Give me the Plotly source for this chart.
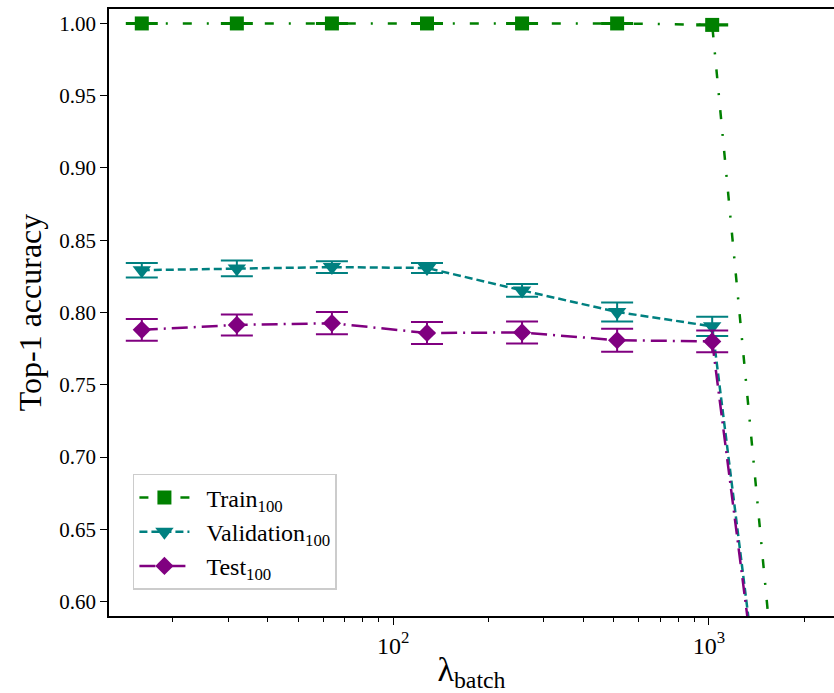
import plotly.graph_objects as go

batch = [16, 32, 64, 128, 256, 512, 1024, 2048]

train_acc = [1.000, 1.000, 1.000, 1.000, 1.000, 1.000, 0.999, 0.305]
train_err = [0.0003, 0.0003, 0.0003, 0.0003, 0.0003, 0.0003, 0.0004, 0.0]

val_acc = [0.8293, 0.8305, 0.8314, 0.8308, 0.8153, 0.8004, 0.7904, 0.262]
val_err = [0.0050, 0.0054, 0.0040, 0.0035, 0.0044, 0.0066, 0.0067, 0.0]

test_acc = [0.7880, 0.7914, 0.7926, 0.7858, 0.7862, 0.7808, 0.7800, 0.265]
test_err = [0.0075, 0.0073, 0.0077, 0.0076, 0.0076, 0.0080, 0.0075, 0.0]

names = ["Train<sub>100</sub>", "Validation<sub>100</sub>", "Test<sub>100</sub>"]
colors = ["#008000", "#008080", "#800080"]
dashes = ["9px,15px,2px,15px", "8px,4px", "16px,6px,2px,6px"]
symbols = ["square", "triangle-down", "diamond"]
sizes = [14, 16, 14]

FONT = "Liberation Serif, DejaVu Serif, serif"

fig = go.Figure()
for acc, err, name, col, dash, sym, sz in zip(
    [train_acc, val_acc, test_acc], [train_err, val_err, test_err],
    names, colors, dashes, symbols, sizes):
    fig.add_trace(go.Scatter(
        x=batch, y=acc, name="\u2002" + name, mode="lines+markers",
        line=dict(color=col, width=2.5, dash=dash),
        marker=dict(symbol=sym, size=sz, color=col, line=dict(width=0)),
        error_y=dict(type="data", array=err, visible=True, color=col,
                     thickness=2, width=16),
        cliponaxis=True,
    ))

fig.update_layout(
    width=834, height=693,
    margin=dict(l=109, r=0, t=9, b=77),
    paper_bgcolor="white", plot_bgcolor="white",
    font=dict(family=FONT, size=21, color="black"),
    showlegend=True,
    legend=dict(
        x=0.033, y=0.043, xanchor="left", yanchor="bottom",
        bgcolor="rgba(255,255,255,0.8)", bordercolor="#cccccc", borderwidth=1.5,
        font=dict(family=FONT, size=24), itemwidth=50,
        tracegroupgap=0,
    ),
    xaxis=dict(
        type="log", range=[1.1003, 3.396],
        showgrid=False, zeroline=False,
        showline=True, linecolor="black", linewidth=1.5, mirror=True,
        ticks="outside", ticklen=7, tickwidth=1.2, tickcolor="black",
        tickvals=[100, 1000], ticktext=["10<sup>2</sup>", "10<sup>3</sup>"],
        tickfont=dict(family=FONT, size=24),
        minor=dict(ticks="outside", ticklen=4, tickwidth=1, tickcolor="black",
                   tickvals=[20, 30, 40, 50, 60, 70, 80, 90,
                             200, 300, 400, 500, 600, 700, 800, 900, 2000],
                   showgrid=False),
        title=dict(text="λ<sub>batch</sub>", font=dict(family=FONT, size=34),
                   standoff=4),
    ),
    yaxis=dict(
        range=[0.59, 1.01],
        showgrid=False, zeroline=False,
        showline=True, linecolor="black", linewidth=1.5, mirror=False,
        ticks="outside", ticklen=7, tickwidth=1.2, tickcolor="black",
        tickvals=[0.60, 0.65, 0.70, 0.75, 0.80, 0.85, 0.90, 0.95, 1.00],
        tickformat=".2f",
        tickfont=dict(family=FONT, size=21),
        title=dict(text="Top-1 accuracy", font=dict(family=FONT, size=32),
                   standoff=8),
    ),
)

fig.write_html("out.html")
